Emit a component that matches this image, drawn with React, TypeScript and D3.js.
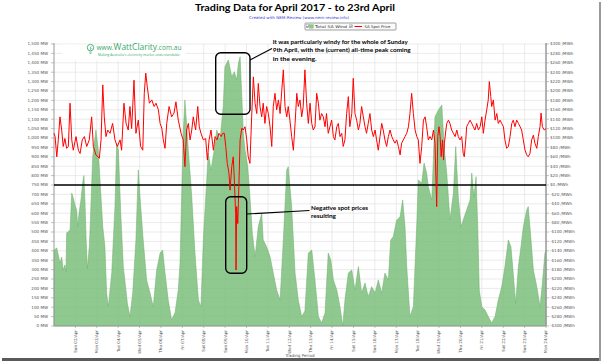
import React from 'react';
import * as d3 from 'd3';

const W = 604;
const H = 364;

const dayLabels = [
  'Sun 02/Apr', 'Mon 03/Apr', 'Tue 04/Apr', 'Wed 05/Apr', 'Thu 06/Apr', 'Fri 07/Apr',
  'Sat 08/Apr', 'Sun 09/Apr', 'Mon 10/Apr', 'Tue 11/Apr', 'Wed 12/Apr', 'Thu 13/Apr',
  'Fri 14/Apr', 'Sat 15/Apr', 'Sun 16/Apr', 'Mon 17/Apr', 'Tue 18/Apr', 'Wed 19/Apr',
  'Thu 20/Apr', 'Fri 21/Apr', 'Sat 22/Apr', 'Sun 23/Apr', 'Mon 24/Apr',
];
const dayTicks = d3.range(2, 25);
const mwTicks = d3.range(0, 1501, 50);
const priceTicks = d3.range(-300, 301, 20);

// [day of April (fractional), MW]
const windSeries: [number, number][] = [
  [1.00, 400], [1.01, 404], [1.13, 415], [1.20, 378], [1.28, 335], [1.36, 367], [1.43, 298], [1.51, 325],
  [1.56, 289], [1.59, 495], [1.67, 502], [1.75, 511], [1.83, 707], [1.90, 681], [1.98, 644], [2.06, 617],
  [2.11, 528], [2.17, 600], [2.26, 670], [2.34, 760], [2.40, 800], [2.45, 654], [2.50, 468], [2.56, 305],
  [2.65, 422], [2.68, 495], [2.81, 900], [2.96, 1043], [3.07, 936], [3.15, 777], [3.28, 528], [3.38, 422],
  [3.46, 176], [3.54, 103], [3.70, 282], [3.85, 635], [3.93, 972], [4.01, 936], [4.12, 600], [4.24, 316],
  [4.43, 121], [4.55, 50], [4.68, 176], [4.83, 457], [4.94, 830], [5.02, 688], [5.17, 457], [5.33, 245],
  [5.49, 176], [5.64, 103], [5.80, 298], [5.96, 388], [6.08, 404], [6.19, 282], [6.34, 138], [6.50, 32],
  [6.66, 72], [6.81, 192], [6.89, 330], [7.04, 1026], [7.12, 1202], [7.28, 936], [7.44, 688], [7.59, 388],
  [7.75, 138], [7.87, 103], [7.98, 457], [8.14, 777], [8.21, 920], [8.34, 830], [8.49, 936], [8.61, 1043],
  [8.76, 989], [8.91, 1166], [8.99, 1379], [9.15, 1415], [9.31, 1326], [9.43, 1353], [9.54, 1309], [9.62, 1397],
  [9.70, 1432], [9.78, 1220], [9.85, 1026], [9.93, 936], [10.06, 847], [10.16, 688], [10.27, 495], [10.40, 369],
  [10.55, 528], [10.71, 600], [10.78, 457], [10.94, 422], [11.10, 369], [11.25, 282], [11.41, 192], [11.57, 138],
  [11.72, 457], [11.88, 830], [11.95, 847], [12.11, 635], [12.27, 282], [12.42, 138], [12.58, 50], [12.73, 80],
  [12.89, 388], [13.05, 404], [13.20, 245], [13.36, 50], [13.51, 16], [13.67, 69], [13.82, 388], [13.94, 351],
  [14.06, 245], [14.22, 192], [14.37, 103], [14.50, 0], [14.60, 138], [14.76, 282], [14.92, 298], [15.07, 192],
  [15.23, 316], [15.38, 176], [15.54, 229], [15.69, 156], [15.85, 209], [16.01, 176], [16.16, 245], [16.32, 176],
  [16.47, 282], [16.63, 245], [16.74, 457], [16.86, 475], [17.02, 564], [17.18, 581], [17.30, 670], [17.41, 528],
  [17.49, 316], [17.64, 50], [17.80, 103], [17.96, 548], [18.03, 777], [18.19, 760], [18.30, 867], [18.42, 814],
  [18.50, 741], [18.66, 670], [18.81, 1113], [18.97, 1149], [19.13, 1175], [19.25, 936], [19.36, 814], [19.51, 564],
  [19.67, 706], [19.78, 954], [19.90, 688], [20.03, 528], [20.13, 564], [20.29, 617], [20.45, 670], [20.53, 814],
  [20.63, 688], [20.73, 794], [20.81, 528], [20.88, 192], [21.00, 103], [21.15, 85], [21.30, 50], [21.46, 16],
  [21.62, 50], [21.77, 138], [21.93, 209], [22.08, 316], [22.24, 457], [22.36, 422], [22.47, 280], [22.58, 121],
  [22.71, 316], [22.83, 422], [22.94, 528], [23.10, 617], [23.17, 635], [23.30, 457], [23.41, 298], [23.57, 209],
  [23.72, 103], [23.83, 227], [23.95, 387], [24.00, 400],
];

// [day of April (fractional), $/MWh]
const priceSeries: [number, number][] = [
  [1.00, 110], [1.05, 103], [1.13, 60], [1.20, 96], [1.28, 145], [1.36, 117], [1.43, 82], [1.51, 99],
  [1.59, 78], [1.67, 82], [1.75, 174], [1.83, 96], [1.90, 74], [2.03, 103], [2.14, 74], [2.22, 67],
  [2.32, 96], [2.42, 103], [2.53, 82], [2.65, 96], [2.76, 145], [2.84, 82], [2.96, 64], [3.12, 57],
  [3.20, 96], [3.28, 213], [3.35, 145], [3.43, 103], [3.51, 117], [3.62, 110], [3.74, 131], [3.85, 96],
  [3.96, 82], [4.09, 96], [4.16, 74], [4.27, 174], [4.37, 131], [4.47, 117], [4.55, 167], [4.63, 120],
  [4.74, 223], [4.83, 110], [4.94, 138], [5.05, 82], [5.15, 74], [5.22, 195], [5.29, 238], [5.36, 209],
  [5.46, 174], [5.57, 181], [5.68, 167], [5.77, 174], [5.88, 160], [5.96, 131], [6.04, 121], [6.11, 96],
  [6.19, 78], [6.27, 131], [6.38, 167], [6.50, 145], [6.61, 153], [6.70, 177], [6.81, 138], [6.94, 110],
  [7.04, 96], [7.12, 39], [7.20, 117], [7.28, 131], [7.36, 96], [7.44, 117], [7.51, 145], [7.62, 117],
  [7.72, 167], [7.79, 124], [7.87, 110], [7.98, 96], [8.09, 99], [8.17, 53], [8.25, 96], [8.34, 117],
  [8.45, 74], [8.53, 103], [8.62, 96], [8.71, 110], [8.81, 103], [8.89, 110], [8.96, 110], [9.03, 82],
  [9.10, 46], [9.18, 25], [9.23, -11], [9.31, 39], [9.38, 60], [9.43, 11], [9.46, -25], [9.49, -60],
  [9.51, -181], [9.54, -46], [9.59, -82], [9.62, -39], [9.70, 96], [9.78, 121], [9.85, 117], [9.93, 124],
  [10.01, 96], [10.08, 60], [10.16, 46], [10.24, 145], [10.32, 230], [10.40, 174], [10.48, 152], [10.55, 216],
  [10.63, 167], [10.71, 145], [10.78, 174], [10.86, 131], [10.94, 167], [11.02, 152], [11.10, 124], [11.18, 82],
  [11.25, 167], [11.33, 195], [11.41, 160], [11.49, 181], [11.57, 152], [11.65, 202], [11.72, 245], [11.80, 167],
  [11.88, 145], [11.95, 167], [12.03, 138], [12.11, 103], [12.19, 74], [12.27, 131], [12.35, 195], [12.42, 167],
  [12.50, 181], [12.58, 145], [12.65, 167], [12.73, 245], [12.81, 174], [12.89, 131], [12.97, 174], [13.05, 131],
  [13.12, 117], [13.20, 124], [13.28, 195], [13.36, 174], [13.43, 138], [13.51, 152], [13.59, 145], [13.67, 124],
  [13.74, 152], [13.82, 110], [13.90, 124], [13.98, 138], [14.06, 103], [14.13, 96], [14.22, 124], [14.29, 131],
  [14.37, 103], [14.45, 110], [14.52, 82], [14.60, 96], [14.68, 152], [14.76, 188], [14.83, 124], [14.92, 152],
  [14.99, 227], [15.07, 152], [15.15, 138], [15.23, 117], [15.30, 131], [15.38, 167], [15.46, 145], [15.54, 124],
  [15.61, 110], [15.69, 131], [15.77, 152], [15.85, 117], [15.93, 103], [16.01, 117], [16.08, 96], [16.16, 74],
  [16.24, 103], [16.32, 131], [16.39, 117], [16.47, 96], [16.55, 82], [16.63, 103], [16.71, 117], [16.79, 103],
  [16.86, 96], [16.94, 89], [17.02, 96], [17.10, 82], [17.18, 64], [17.25, 89], [17.33, 96], [17.41, 103],
  [17.49, 110], [17.57, 124], [17.64, 152], [17.72, 195], [17.80, 152], [17.88, 117], [17.96, 103], [18.03, 96],
  [18.11, 46], [18.19, 82], [18.27, 138], [18.35, 145], [18.42, 124], [18.50, 96], [18.58, 103], [18.66, 96],
  [18.74, 117], [18.81, 89], [18.89, -46], [18.94, 103], [19.00, 124], [19.05, 103], [19.10, 60], [19.16, 96],
  [19.21, 53], [19.25, 89], [19.32, 117], [19.36, 131], [19.44, 138], [19.51, 131], [19.59, 117], [19.67, 110],
  [19.75, 103], [19.83, 117], [19.90, 103], [19.98, 96], [20.06, 103], [20.13, 67], [20.18, 60], [20.25, 96],
  [20.29, 124], [20.37, 131], [20.45, 138], [20.53, 131], [20.60, 124], [20.68, 117], [20.76, 131], [20.84, 117],
  [20.92, 124], [21.00, 145], [21.07, 110], [21.15, 138], [21.23, 160], [21.30, 181], [21.35, 220], [21.42, 188],
  [21.46, 167], [21.54, 181], [21.62, 138], [21.70, 152], [21.77, 131], [21.85, 138], [21.93, 131], [22.01, 124],
  [22.08, 96], [22.16, 78], [22.24, 82], [22.32, 103], [22.40, 131], [22.47, 138], [22.55, 124], [22.63, 138],
  [22.71, 131], [22.79, 124], [22.86, 117], [22.94, 96], [23.02, 74], [23.10, 64], [23.17, 60], [23.25, 67],
  [23.33, 96], [23.41, 106], [23.48, 89], [23.57, 78], [23.64, 103], [23.72, 124], [23.77, 153], [23.83, 124],
  [23.92, 117], [24.00, 120],
];

const annotationTop = [
  'It was particularly windy for the whole of Sunday',
  '9th April, with the (current) all-time peak coming',
  'in the evening.',
];
const annotationTopWidths = [135, 138, 44];
const annotationNeg = ['Negative spot prices', 'resulting'];
const annotationNegWidths = [57, 25];

const AX = "'DejaVu Sans', Verdana, sans-serif";
const BOLD = "Lato, 'Open Sans', sans-serif";

export default function App() {
  const x = d3.scaleLinear().domain([1, 24]).range([54, 546]);
  const yMW = d3.scaleLinear().domain([0, 1500]).range([326, 44]);
  const yP = d3.scaleLinear().domain([-300, 300]).range([326, 44]);

  const area = d3
    .area<[number, number]>()
    .x((d) => x(d[0]))
    .y0(yMW(0))
    .y1((d) => yMW(d[1]));
  const line = d3
    .line<[number, number]>()
    .x((d) => x(d[0]))
    .y((d) => yP(d[1]));

  const [x0, x1] = x.range();
  const fmtMW = d3.format(',');

  return (
    <svg
      width={W}
      height={H}
      viewBox={`0 0 ${W} ${H}`}
      style={{ position: 'absolute', left: 0, top: 0, background: '#fff' }}
    >
      {/* frame shadow */}
      <rect x={2} y={358} width={599} height={3} fill="#5a5a5a" />
      <rect x={599} y={2} width={2} height={359} fill="#9a9a9a" />

      {/* title */}
      <text x={295} y={11} textAnchor="middle" fontFamily={BOLD} fontWeight={700} fontSize={10}
        textLength={200} lengthAdjust="spacingAndGlyphs" fill="#000">
        Trading Data for April 2017 - to 23rd April
      </text>
      <text x={299} y={18.8} textAnchor="middle" fontFamily={AX} fontSize={3.9}
        textLength={100} lengthAdjust="spacingAndGlyphs" fill="#3b3bd6">
        Created with NEM-Review (www.nem-review.info)
      </text>

      {/* legend */}
      <g>
        <rect x={305} y={23} width={91} height={7} fill="#fafafa" stroke="#777" strokeWidth={0.7} rx={0.8} />
        <rect x={306.3} y={24.8} width={3} height={3} fill="#fff" stroke="#888" strokeWidth={0.4} />
        <path d="M306.9,26.3 L307.7,27.2 L309,25.2" fill="none" stroke="#000" strokeWidth={0.5} />
        <rect x={309.8} y={24.6} width={3.6} height={3.6} fill="#8cc78c" stroke="#6aad6a" strokeWidth={0.3} />
        <text x={315} y={28.1} fontFamily={AX} fontSize={3.7} textLength={32} lengthAdjust="spacingAndGlyphs" fill="#333">
          Total SA Wind
        </text>
        <rect x={349.3} y={24.8} width={3} height={3} fill="#fff" stroke="#888" strokeWidth={0.4} />
        <path d="M349.9,26.3 L350.7,27.2 L352,25.2" fill="none" stroke="#000" strokeWidth={0.5} />
        <line x1={354.5} x2={362} y1={26.5} y2={26.5} stroke="#ff0000" strokeWidth={1} />
        <text x={364.5} y={28.1} fontFamily={AX} fontSize={3.7} textLength={26} lengthAdjust="spacingAndGlyphs" fill="#333">
          SA Spot Price
        </text>
      </g>

      {/* gridlines */}
      <g stroke="#e2e2e2" strokeWidth={0.7}>
        {mwTicks.map((t) => (
          <line key={`h${t}`} x1={x0} x2={x1} y1={yMW(t)} y2={yMW(t)} />
        ))}
        {dayTicks.slice(0, -1).map((d) => (
          <line key={`v${d}`} x1={x(d)} x2={x(d)} y1={yMW(1500)} y2={yMW(0)} />
        ))}
      </g>

      {/* logo (covers grid) */}
      <rect x={62} y={44.5} width={124} height={16} fill="#fff" />
      <g>
        <circle cx={90.5} cy={47.6} r={3.2} fill="none" stroke="#3aa86b" strokeWidth={0.9} />
        <path d="M91.2,46.2 L90,48.2 L91.4,48.2 L90.2,50" fill="none" stroke="#3aa86b" strokeWidth={0.6} />
        <line x1={89.3} x2={91.7} y1={52} y2={52} stroke="#3aa86b" strokeWidth={0.7} />
        <line x1={89.6} x2={91.4} y1={53.4} y2={53.4} stroke="#3aa86b" strokeWidth={0.7} />
        <text x={96.5} y={50.3} fontFamily="'Open Sans', sans-serif" fill="#3aa86b" textLength={85}
          lengthAdjust="spacingAndGlyphs">
          <tspan fontSize={6.5}>www.</tspan>
          <tspan fontSize={8.3}>WattClarity</tspan>
          <tspan fontSize={6.5}>.com.au</tspan>
        </text>
        <text x={98} y={56.4} fontFamily="'Open Sans', sans-serif" fontSize={3.1} fill="#3aa86b"
          textLength={82} lengthAdjust="spacingAndGlyphs">
          Making Australia's electricity market understandable
        </text>
      </g>

      {/* wind area */}
      <path d={area(windSeries) ?? ''} fill="#78bd78" fillOpacity={0.82} stroke="#6aad6a" strokeWidth={0.5} />

      {/* axes */}
      <line x1={x0} x2={x0} y1={yMW(1500) - 1} y2={yMW(0)} stroke="#999" strokeWidth={1} />
      <line x1={x1} x2={x1} y1={yMW(1500) - 1} y2={yMW(0)} stroke="#999" strokeWidth={1.5} />
      <line x1={x0} x2={x1} y1={yMW(0)} y2={yMW(0)} stroke="#999" strokeWidth={0.8} />

      <g fontFamily={AX} fontSize={4.1} fill="#555">
        {mwTicks.map((t) => (
          <g key={`l${t}`}>
            <line x1={x0 - 3} x2={x0} y1={yMW(t)} y2={yMW(t)} stroke="#999" strokeWidth={0.6} />
            <text x={x0 - 6} y={yMW(t) + 1.4} textAnchor="end">{`${fmtMW(t)} MW`}</text>
          </g>
        ))}
        {priceTicks.map((t) => (
          <g key={`r${t}`}>
            <line x1={x1} x2={x1 + 3} y1={yP(t)} y2={yP(t)} stroke="#999" strokeWidth={0.6} />
            <text x={x1 + 4} y={yP(t) + 1.4} textAnchor="start">
              {t < 0 ? `-$${-t} /MWh` : `$${t} /MWh`}
            </text>
          </g>
        ))}
        {dayTicks.map((d, i) => (
          <g key={`d${d}`}>
            <line x1={x(d)} x2={x(d)} y1={yMW(0)} y2={yMW(0) + 2} stroke="#999" strokeWidth={0.6} />
            <text transform={`translate(${x(d) + 1.4},${yMW(0) + 4}) rotate(-90)`} textAnchor="end">
              {dayLabels[i]}
            </text>
          </g>
        ))}
        <text x={300} y={357} textAnchor="middle">Trading Period</text>
      </g>

      {/* zero-price / 750 MW line */}
      <line x1={x0} x2={x1} y1={yP(0)} y2={yP(0)} stroke="#000" strokeWidth={1.6} />

      {/* price line */}
      <path d={line(priceSeries) ?? ''} fill="none" stroke="#ff0000" strokeWidth={1} strokeLinejoin="round" />

      {/* annotations */}
      <g fill="none" stroke="#000">
        <rect x={215.7} y={52.7} width={34.3} height={61.5} rx={5} strokeWidth={1.4} />
        <line x1={250} y1={60} x2={272} y2={48.5} strokeWidth={1.1} />
        <rect x={225.7} y={196.7} width={21} height={76.6} rx={5} strokeWidth={1.4} />
        <line x1={246.7} y1={214} x2={309.5} y2={210.5} strokeWidth={1.1} />
      </g>
      <g fontFamily={BOLD} fontWeight={700} fontSize={6} fill="#000">
        {annotationTop.map((s, i) => (
          <text key={s} x={272.7} y={43.9 + i * 8.3} textLength={annotationTopWidths[i]} lengthAdjust="spacingAndGlyphs">
            {s}
          </text>
        ))}
        {annotationNeg.map((s, i) => (
          <text key={s} x={311} y={210.3 + i * 8} textLength={annotationNegWidths[i]} lengthAdjust="spacingAndGlyphs">
            {s}
          </text>
        ))}
      </g>
    </svg>
  );
}
